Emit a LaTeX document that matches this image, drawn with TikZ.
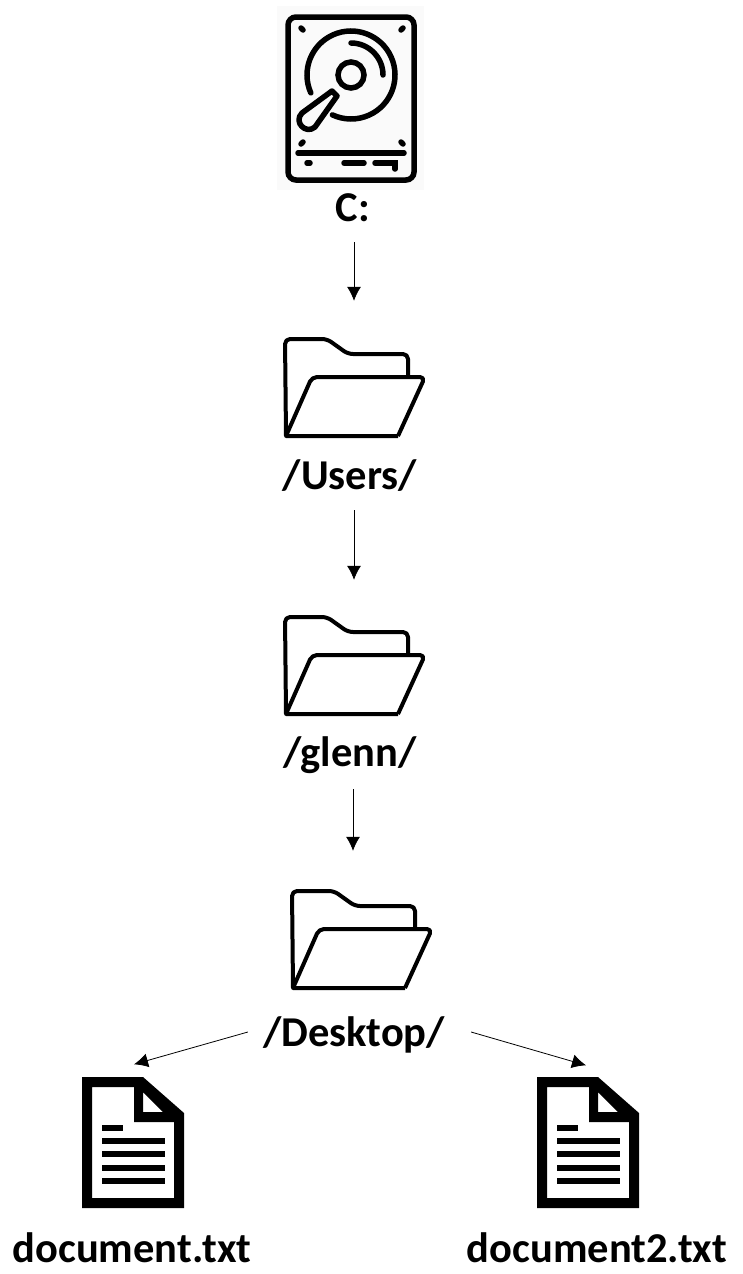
\documentclass[tikz,border=0pt]{standalone}
\usepackage{fontspec}
\setmainfont{Carlito}
\usetikzlibrary{arrows.meta}

\tikzset{
    disk/.pic={
        \fill[black!2] (-74,-69) rectangle (73,115);
        \draw[line width=5.5, rounded corners=8] (-63,-58) rectangle (63,105);
        \draw[line width=5.5, line cap=round] (-50,-47) -- (-48,-45);
        \draw[line width=5.5, line cap=round] (52,-47) -- (50,-45);
        \draw[line width=5.5, line cap=round] (-50,69) -- (-48,67);
        \draw[line width=5.5, line cap=round] (52,69) -- (50,67);
        \draw[line width=5.5, line cap=round] (0,0) ++(156:44) arc[start angle=156, end angle=475, radius=44];
        \draw[line width=5.5, line cap=round] (0,0) ++(270:32) arc[start angle=270, end angle=360, radius=32];
        \draw[line width=5.5] (0,0) circle (13);
        \draw[line width=5.5, line join=round] (-19,16) -- (-49,38)
            .. controls (-58,47) and (-45,60) .. (-36,52) -- (-14,21) -- cycle;
        \draw[line width=5.5, line cap=round] (-53,78) -- (53,78);
        \draw[line width=5.5, line cap=round] (-44,88) -- (-41,88);
        \draw[line width=5.5, line cap=round] (-7,88) -- (13,88);
        \draw[line width=5.5, line cap=round] (24,88) -- (44,88) -- (44,94);
    },
    folder/.pic={
        \draw[line width=4, line join=round, rounded corners=5] (-63,48) -- (-64,-49) -- (-22,-49)
            -- (-1,-34) -- (59,-34) -- (59,-11);
        \draw[line width=4, line join=round] (49,48) -- (-63,48) [rounded corners=5] -- (-37,-11) -- (76,-11)
            -- (49,48);
    },
    paper/.pic={
        \fill[even odd rule] (-51,-65) -- (10,-65) -- (51,-29) -- (51,66) -- (-51,66) -- cycle
            (-41,-55) -- (1,-55) -- (1,-20) -- (41,-20) -- (41,56) -- (-41,56) -- cycle
            (10,-50) -- (10,-30) -- (30,-30) -- cycle;
        \fill (-31,-17) rectangle (-10,-11);
        \fill (-31,-4) rectangle (32,2);
        \fill (-31,9) rectangle (32,15);
        \fill (-31,23) rectangle (32,29);
        \fill (-31,36) rectangle (32,42);
    }
}

\begin{document}
\begin{tikzpicture}[
    x=1pt, y=-1pt,
    >={Latex[length=14pt,width=14pt]},
    label/.style={font=\fontsize{42.5}{47}\selectfont\bfseries, inner sep=0pt, minimum height=68pt},
    icon/.style={minimum width=120pt, minimum height=98pt, inner sep=0pt},
    link/.style={->, line width=0.8pt}
]

\useasboundingbox (0,0) rectangle (742,1274);

% icons
\pic at (351,75) {disk};
\pic at (349,388) {folder};
\pic at (349,666) {folder};
\pic at (356,940) {folder};
\pic at (133,1142) {paper};
\pic at (588,1142) {paper};

\node[icon] (disk) at (351,75) {};
\node[icon] (users) at (349,388) {};
\node[icon] (glenn) at (349,666) {};
\node[icon] (desktop) at (356,940) {};
\node[icon, minimum height=131pt] (doc) at (133,1142) {};
\node[icon, minimum height=131pt] (doctwo) at (588,1142) {};

% labels
\node[label] (lblc) at (353,208) {C:};
\node[label] (lblusers) at (350,476) {/Users/};
\node[label] (lblglenn) at (350,755) {/glenn/};
\node[label] (lbldesktop) at (354,1034.5) {/Desktop/};
\node[label] (lbldoc) at (132,1248) {document.txt};
\node[label] (lbldoctwo) at (597,1248) {document2.txt};

% links
\draw[link] ([xshift=1]lblc.south) -- ([xshift=5,yshift=38]users.north);
\draw[link] ([xshift=4]lblusers.south) -- ([xshift=5,yshift=37]glenn.north);
\draw[link] ([xshift=3]lblglenn.south) -- ([xshift=-3,yshift=40]desktop.north);
\draw[link] ([xshift=-15,yshift=2.5]lbldesktop.west) -- ([xshift=1,yshift=12]doc.north);
\draw[link] ([xshift=26,yshift=2.5]lbldesktop.east) -- ([xshift=-2,yshift=11]doctwo.north);

\end{tikzpicture}
\end{document}
